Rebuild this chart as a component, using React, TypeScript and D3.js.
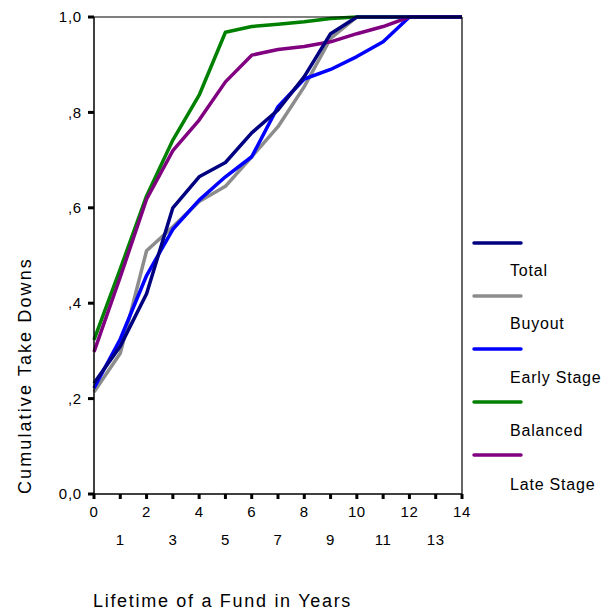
import { useMemo } from 'react';
import * as d3 from 'd3';

// lifetime of the fund, years
const years = [0, 1, 2, 3, 4, 5, 6, 7, 8, 9, 10, 11, 12, 13, 14];

const total = [0.232, 0.31, 0.42, 0.6, 0.665, 0.695, 0.757, 0.805, 0.875, 0.965, 1, 1, 1, 1, 1];
const buyout = [0.214, 0.295, 0.51, 0.56, 0.613, 0.645, 0.707, 0.77, 0.854, 0.955, 1, 1, 1, 1, 1];
const earlyStage = [0.222, 0.325, 0.458, 0.555, 0.616, 0.665, 0.707, 0.812, 0.87, 0.89, 0.917, 0.948, 1, 1, 1];
const balanced = [0.323, 0.472, 0.625, 0.742, 0.836, 0.968, 0.98, 0.985, 0.99, 0.997, 1, 1, 1, 1, 1];
const lateStage = [0.298, 0.455, 0.618, 0.72, 0.784, 0.864, 0.92, 0.932, 0.938, 0.948, 0.965, 0.98, 1, 1, 1];

const seriesNames = ['Total', 'Buyout', 'Early Stage', 'Balanced', 'Late Stage'];
const seriesColors = ['#000080', '#8c8c8c', '#0000ff', '#008000', '#800080'];

const yTicks = [0, 0.2, 0.4, 0.6, 0.8, 1.0];
const yTickLabels = ['0,0', ',2', ',4', ',6', ',8', '1,0'];

const font = 'Arial, "Liberation Sans", sans-serif';

export default function App() {
    const width = 603;
    const height = 614;
    const margin = { top: 17, right: 141, bottom: 120, left: 94 };

    const x = useMemo(() => d3.scaleLinear().domain([0, 14]).range([margin.left, width - margin.right]), []);
    const y = useMemo(() => d3.scaleLinear().domain([0, 1]).range([height - margin.bottom, margin.top]), []);

    const series = [total, buyout, earlyStage, balanced, lateStage];
    // draw navy last so it sits on top like in the original
    const drawOrder = [1, 2, 3, 4, 0];

    const line = d3.line<number>()
        .x((_, i) => x(years[i]))
        .y(d => y(d));

    const x0 = x(0), x1 = x(14), yb = y(0), yt = y(1);

    return (
        <svg width={width} height={height} style={{ position: 'absolute', left: 0, top: 0, background: '#fff' }}
            fontFamily={font}>
            {/* lines */}
            {drawOrder.map(i => (
                <path key={i} d={line(series[i]) || ''} fill="none" stroke={seriesColors[i]}
                    strokeWidth={3.5} strokeLinejoin="round" />
            ))}

            {/* frame */}
            <line x1={x0} y1={yt} x2={x1} y2={yt} stroke="#000" strokeWidth={1.2} />
            <line x1={x1} y1={yt} x2={x1} y2={yb} stroke="#000" strokeWidth={1.2} />
            <line x1={x0} y1={yt} x2={x0} y2={yb} stroke="#000" strokeWidth={1.5} />
            <line x1={x0} y1={yb} x2={x1} y2={yb} stroke="#000" strokeWidth={1.5} />

            {/* y ticks */}
            {yTicks.map((t, i) => (
                <g key={t}>
                    <line x1={x0 - 6} x2={x0} y1={y(t)} y2={y(t)} stroke="#000" strokeWidth={3} />
                    <text x={82} y={y(t)} dy="0.35em" textAnchor="end" fontSize={15} letterSpacing={0.8}
                        fill="#000">{yTickLabels[i]}</text>
                </g>
            ))}

            {/* x ticks */}
            {years.map(t => (
                <g key={t}>
                    <line x1={x(t)} x2={x(t)} y1={yb} y2={yb + 5} stroke="#000" strokeWidth={3} />
                    <text x={x(t)} y={t % 2 === 0 ? 512 : 540} dy="0.35em" textAnchor="middle"
                        fontSize={15} letterSpacing={0.6} fill="#000">{t}</text>
                </g>
            ))}

            {/* axis titles */}
            <text x={x0 - 1} y={607} fontSize={18} letterSpacing={1.7} fill="#000">Lifetime of a Fund in Years</text>
            <text transform={`translate(31, ${yb}) rotate(-90)`} fontSize={18} letterSpacing={2.1}
                fill="#000">Cumulative Take Downs</text>

            {/* legend */}
            {seriesNames.map((name, i) => (
                <g key={name}>
                    <line x1={474} x2={521} y1={243 + i * 53} y2={243 + i * 53} stroke={seriesColors[i]}
                        strokeWidth={3.5} strokeLinecap="round" />
                    <text x={510} y={270 + i * 53.5} dy="0.35em" fontSize={16} letterSpacing={0.8}
                        fill="#000">{name}</text>
                </g>
            ))}
        </svg>
    );
}
